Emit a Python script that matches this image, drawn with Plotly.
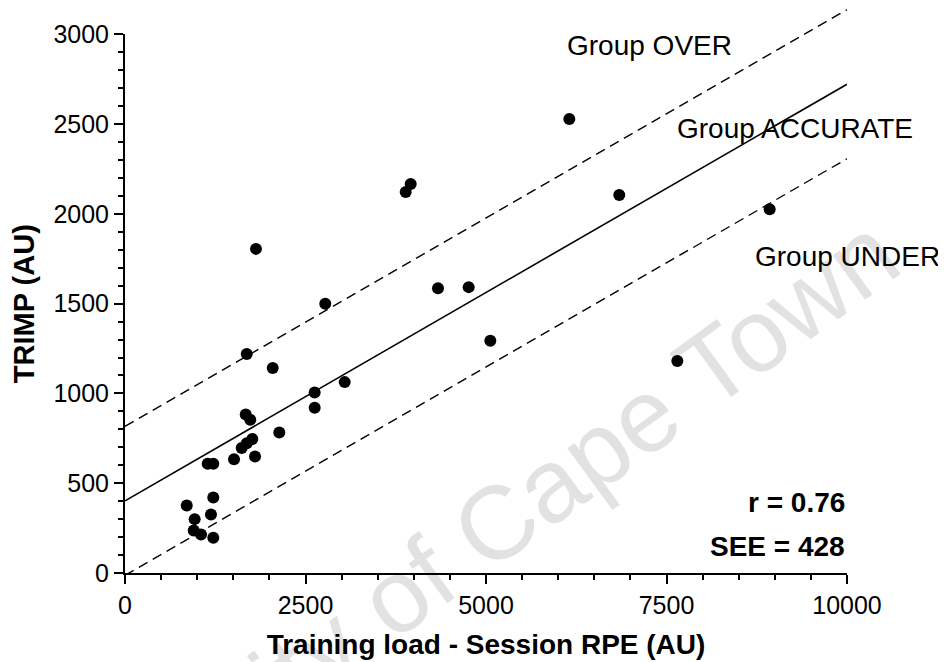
import plotly.graph_objects as go

# ---------------- data ----------------
session_rpe_load = [855, 952, 965, 1053, 1145, 1191, 1223, 1223, 1223, 1510, 1616,
                    1686, 1686, 1672, 1735, 1763, 1801, 1814, 2046, 2137, 2627, 2627,
                    2774, 3043, 3888, 3957, 4335, 4760, 5060, 6154, 6846, 7650, 8929]
trimp = [376, 237, 300, 215, 608, 326, 608, 421, 196, 634, 696,
         723, 1220, 883, 853, 746, 649, 1805, 1142, 782, 1005, 920,
         1500, 1063, 2122, 2166, 1586, 1592, 1294, 2528, 2105, 1181, 2026]

fit_slope = 0.232
fit_intercept = 402
band_offset = 415
line_x = [0, 10000]

x_ticks = [0, 2500, 5000, 7500, 10000]
y_ticks = [0, 500, 1000, 1500, 2000, 2500, 3000]

group_labels = ["Group OVER", "Group ACCURATE", "Group UNDER"]
stats_labels = ["r = 0.76", "SEE = 428"]
watermark_text = "University of Cape Town"

# ---------------- layout geometry ----------------
# the page body adds an 8px margin, so the figure is 8px smaller on each axis
W, H = 938, 654
M_L, M_R, M_T, M_B = 117, 99, 0, 89
Y_MAIN_TOP_PX = 26.3          # figure pixel row of y = 3000
plot_h = H - M_T - M_B
dom_top = (H - M_B - Y_MAIN_TOP_PX) / plot_h
Y_MAX = 3000
y2_max = Y_MAX / dom_top

FONT = "Liberation Sans, Arial, sans-serif"

fig = go.Figure()

# regression line and +/- band (drawn on an extended overlay subplot so they run above y=3000)
fit_y = [fit_intercept + fit_slope * v for v in line_x]
over_y = [v + band_offset for v in fit_y]
under_y = [v - band_offset for v in fit_y]

fig.add_trace(go.Scatter(x=line_x, y=fit_y, mode="lines",
                         line=dict(color="black", width=1.6),
                         xaxis="x2", yaxis="y2", showlegend=False, hoverinfo="skip"))
for yy in (over_y, under_y):
    fig.add_trace(go.Scatter(x=line_x, y=yy, mode="lines",
                             line=dict(color="black", width=1.4, dash="10px,6px"),
                             xaxis="x2", yaxis="y2", showlegend=False, hoverinfo="skip"))

fig.add_trace(go.Scatter(x=session_rpe_load, y=trimp, mode="markers",
                         marker=dict(color="black", size=12),
                         cliponaxis=False, showlegend=False))

axis_common = dict(showgrid=False, zeroline=False, showline=True, linecolor="black",
                   linewidth=2, ticks="outside", tickcolor="black", tickwidth=2, ticklen=9,
                   automargin=False,
                   tickfont=dict(family=FONT, size=25, color="black"))

fig.update_layout(
    width=W, height=H,
    margin=dict(l=M_L, r=M_R, t=M_T, b=M_B),
    paper_bgcolor="white", plot_bgcolor="rgba(0,0,0,0)",
    showlegend=False,
    xaxis=dict(range=[0, 10000], domain=[0, 1], tickvals=x_ticks,
               ticktext=[str(v) for v in x_ticks],
               minor=dict(dtick=500, ticklen=5, tickwidth=2, tickcolor="black", ticks="outside"),
               title=dict(text="<b>Training load - Session RPE (AU)</b>",
                          font=dict(family=FONT, size=28, color="black"), standoff=16),
               anchor="y", **axis_common),
    yaxis=dict(range=[0, Y_MAX], domain=[0, dom_top], tickvals=y_ticks,
               ticktext=[str(v) for v in y_ticks],
               minor=dict(dtick=100, ticklen=5, tickwidth=2, tickcolor="black", ticks="outside"),
               title=dict(text="<b>TRIMP (AU)</b>",
                          font=dict(family=FONT, size=29, color="black"), standoff=12),
               anchor="x", **axis_common),
    xaxis2=dict(range=[0, 10000], domain=[0, 1], visible=False, anchor="y2"),
    yaxis2=dict(range=[0, y2_max], domain=[0, 1], visible=False, anchor="x2"),
)

# group labels
group_pos = [(6094, 2940), (7618, 2478), (8698, 1760)]
for txt, (gx, gy) in zip(group_labels, group_pos):
    fig.add_annotation(x=gx, y=gy, xref="x", yref="y", text=txt, showarrow=False,
                       xanchor="left", yanchor="middle",
                       font=dict(family=FONT, size=28, color="black"))

# statistics
stats_pos = [391, 147]
for txt, sy in zip(stats_labels, stats_pos):
    fig.add_annotation(x=10000, y=sy, xref="x", yref="y", text=f"<b>{txt}</b>",
                       showarrow=False, xanchor="right", yanchor="middle",
                       font=dict(family=FONT, size=28, color="black"))

# watermark
fig.add_annotation(x=0.425, y=0.006, xref="paper", yref="paper", text=watermark_text,
                   showarrow=False, textangle=-36, xanchor="center", yanchor="middle",
                   font=dict(family=FONT, size=104, color="rgba(0,0,0,0.115)"))

fig.write_html("out.html")
